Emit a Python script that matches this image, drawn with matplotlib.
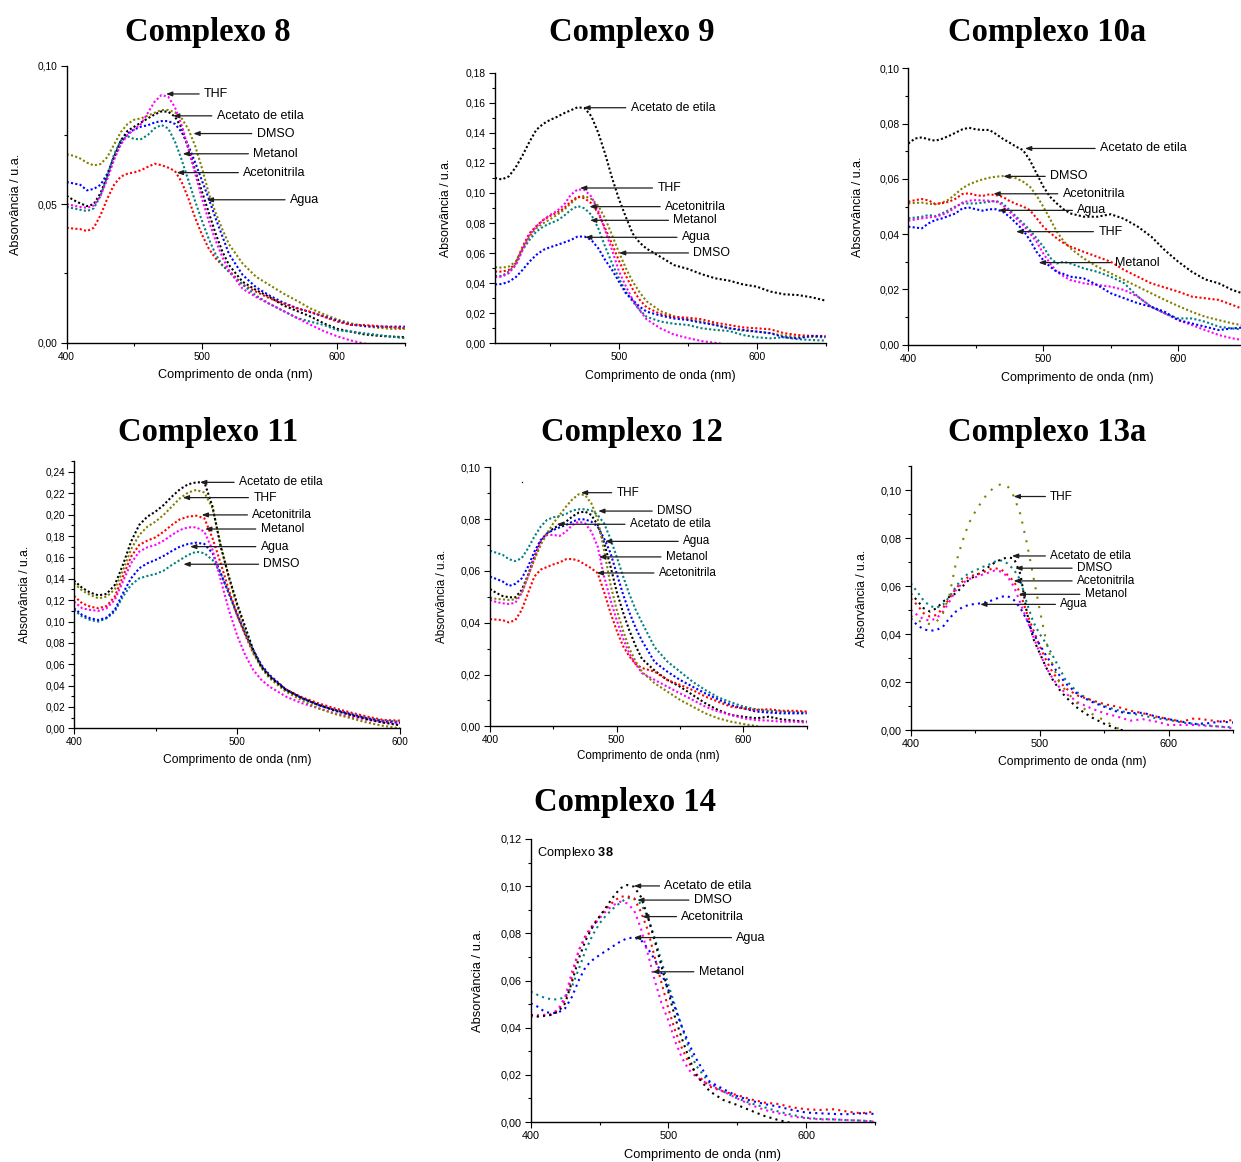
import numpy as np
import matplotlib
matplotlib.use("Agg")
import matplotlib.pyplot as plt
from matplotlib.ticker import MultipleLocator, FuncFormatter

plt.rcParams['font.family'] = ['Liberation Sans', 'DejaVu Sans']
plt.rcParams['mathtext.fontset'] = 'custom'
plt.rcParams['mathtext.rm'] = 'Liberation Sans'
plt.rcParams['mathtext.bf'] = 'Liberation Sans:bold'

FIG_W, FIG_H = 1241, 1162

# ---------------------------------------------------------------- wavelengths (nm)
wl = [400, 405, 410, 415, 420, 425, 430, 435, 440, 445, 450, 455, 460, 465, 470,
      475, 480, 485, 490, 495, 500, 505, 510, 515, 520, 530, 540, 550, 560, 570,
      580, 590, 600, 610, 620, 630, 640, 650]
wl_9 = [410, 415, 420, 425, 430, 435, 440, 445, 450, 455, 460, 465, 470, 475, 480,
        485, 490, 495, 500, 505, 510, 515, 520, 530, 540, 550, 560, 570, 580, 590,
        600, 610, 620, 630, 640, 650]
wl_11 = [400, 405, 410, 415, 420, 425, 430, 435, 440, 445, 450, 455, 460, 465, 470,
         475, 480, 485, 490, 495, 500, 505, 510, 515, 520, 530, 540, 550, 560, 570,
         580, 590, 600]

# ---------------------------------------------------------------- Complexo 8
c8_olive = [0.0680, 0.0675, 0.0665, 0.0650, 0.0640, 0.0645, 0.0670, 0.0715, 0.0760, 0.0790,
            0.0805, 0.0810, 0.0820, 0.0830, 0.0840, 0.0840, 0.0832, 0.0810, 0.0770, 0.0710,
            0.0630, 0.0540, 0.0470, 0.0410, 0.0355, 0.0286, 0.0238, 0.0208, 0.0178, 0.0152,
            0.0124, 0.0103, 0.0084, 0.0070, 0.0060, 0.0054, 0.0050, 0.0050]
c8_blue = [0.0580, 0.0575, 0.0570, 0.0550, 0.0555, 0.0570, 0.0610, 0.0670, 0.0720, 0.0755,
           0.0770, 0.0780, 0.0785, 0.0795, 0.0800, 0.0800, 0.0790, 0.0760, 0.0710, 0.0650,
           0.0585, 0.0520, 0.0450, 0.0385, 0.0320, 0.0245, 0.0200, 0.0170, 0.0145, 0.0125,
           0.0110, 0.0095, 0.0080, 0.0065, 0.0060, 0.0058, 0.0058, 0.0058]
c8_black = [0.0530, 0.0515, 0.0503, 0.0493, 0.0500, 0.0540, 0.0600, 0.0670, 0.0730, 0.0765,
            0.0780, 0.0795, 0.0810, 0.0824, 0.0835, 0.0834, 0.0816, 0.0775, 0.0700, 0.0620,
            0.0545, 0.0470, 0.0395, 0.0330, 0.0280, 0.0220, 0.0190, 0.0165, 0.0135, 0.0115,
            0.0095, 0.0070, 0.0050, 0.0040, 0.0030, 0.0025, 0.0022, 0.0020]
c8_magenta = [0.0500, 0.0495, 0.0490, 0.0487, 0.0495, 0.0530, 0.0590, 0.0660, 0.0715, 0.0750,
              0.0770, 0.0790, 0.0830, 0.0870, 0.0894, 0.0888, 0.0850, 0.0785, 0.0700, 0.0610,
              0.0520, 0.0440, 0.0370, 0.0310, 0.0260, 0.0195, 0.0165, 0.0140, 0.0115, 0.0090,
              0.0065, 0.0042, 0.0023, 0.0008, -0.0003, -0.0010, -0.0015, -0.0020]
c8_teal = [0.0490, 0.0485, 0.0480, 0.0475, 0.0485, 0.0530, 0.0600, 0.0680, 0.0730, 0.0745,
           0.0735, 0.0735, 0.0750, 0.0774, 0.0786, 0.0774, 0.0726, 0.0660, 0.0585, 0.0510,
           0.0440, 0.0375, 0.0320, 0.0280, 0.0255, 0.0210, 0.0170, 0.0140, 0.0115, 0.0090,
           0.0076, 0.0064, 0.0045, 0.0040, 0.0034, 0.0028, 0.0022, 0.0016]
c8_red = [0.0415, 0.0412, 0.0410, 0.0403, 0.0415, 0.0460, 0.0520, 0.0570, 0.0600, 0.0610,
          0.0615, 0.0623, 0.0635, 0.0646, 0.0641, 0.0632, 0.0620, 0.0580, 0.0520, 0.0450,
          0.0390, 0.0340, 0.0305, 0.0280, 0.0260, 0.0210, 0.0184, 0.0160, 0.0142, 0.0124,
          0.0112, 0.0094, 0.0076, 0.0064, 0.0064, 0.0060, 0.0056, 0.0052]

# ---------------------------------------------------------------- Complexo 9
c9_black = [0.1100, 0.1090, 0.1110, 0.1170, 0.1250, 0.1340, 0.1420, 0.1460, 0.1486, 0.1506,
            0.1530, 0.1550, 0.1570, 0.1565, 0.1510, 0.1400, 0.1260, 0.1100, 0.0960, 0.0840,
            0.0730, 0.0670, 0.0630, 0.0576, 0.0520, 0.0495, 0.0460, 0.0432, 0.0417, 0.0392,
            0.0377, 0.0344, 0.0326, 0.0321, 0.0306, 0.0284]
c9_olive = [0.0506, 0.0503, 0.0510, 0.0543, 0.0630, 0.0710, 0.0765, 0.0798, 0.0825, 0.0854,
            0.0887, 0.0930, 0.0970, 0.0980, 0.0960, 0.0915, 0.0830, 0.0720, 0.0605, 0.0500,
            0.0410, 0.0340, 0.0280, 0.0215, 0.0180, 0.0160, 0.0144, 0.0122, 0.0100, 0.0084,
            0.0078, 0.0067, 0.0050, 0.0044, 0.0042, 0.0040]
c9_magenta = [0.0440, 0.0443, 0.0466, 0.0520, 0.0620, 0.0720, 0.0776, 0.0820, 0.0854, 0.0880,
              0.0920, 0.0987, 0.1024, 0.1020, 0.0976, 0.0880, 0.0750, 0.0620, 0.0480, 0.0380,
              0.0290, 0.0220, 0.0160, 0.0100, 0.0058, 0.0035, 0.0015, 0.0003, -0.0010, -0.0020,
              -0.0020, -0.0020, -0.0020, -0.0020, -0.0020, -0.0020]
c9_red = [0.0477, 0.0477, 0.0488, 0.0532, 0.0643, 0.0732, 0.0780, 0.0820, 0.0847, 0.0869,
          0.0898, 0.0942, 0.0976, 0.0965, 0.0931, 0.0865, 0.0765, 0.0660, 0.0550, 0.0450,
          0.0360, 0.0290, 0.0240, 0.0195, 0.0175, 0.0170, 0.0160, 0.0137, 0.0122, 0.0106,
          0.0100, 0.0093, 0.0067, 0.0055, 0.0049, 0.0049]
c9_teal = [0.0448, 0.0448, 0.0477, 0.0521, 0.0621, 0.0687, 0.0743, 0.0776, 0.0798, 0.0816,
           0.0847, 0.0887, 0.0913, 0.0898, 0.0854, 0.0765, 0.0643, 0.0532, 0.0432, 0.0344,
           0.0277, 0.0222, 0.0177, 0.0145, 0.0130, 0.0122, 0.0100, 0.0089, 0.0082, 0.0055,
           0.0040, 0.0033, 0.0040, 0.0027, 0.0022, 0.0018]
c9_blue = [0.0392, 0.0394, 0.0410, 0.0439, 0.0488, 0.0543, 0.0588, 0.0621, 0.0639, 0.0654,
           0.0670, 0.0687, 0.0710, 0.0710, 0.0687, 0.0632, 0.0554, 0.0488, 0.0410, 0.0333,
           0.0288, 0.0244, 0.0211, 0.0185, 0.0165, 0.0155, 0.0137, 0.0122, 0.0100, 0.0089,
           0.0078, 0.0067, 0.0040, 0.0033, 0.0049, 0.0044]

# ---------------------------------------------------------------- Complexo 10a
c10_black = [0.0728, 0.0746, 0.0750, 0.0743, 0.0738, 0.0745, 0.0755, 0.0767, 0.0779, 0.0785,
             0.0779, 0.0777, 0.0777, 0.0762, 0.0745, 0.0731, 0.0716, 0.0704, 0.0668, 0.0620,
             0.0572, 0.0535, 0.0511, 0.0490, 0.0475, 0.0463, 0.0463, 0.0472, 0.0455, 0.0427,
             0.0391, 0.0342, 0.0300, 0.0264, 0.0236, 0.0222, 0.0198, 0.0182]
c10_olive = [0.0511, 0.0513, 0.0514, 0.0510, 0.0508, 0.0514, 0.0525, 0.0545, 0.0566, 0.0580,
             0.0590, 0.0598, 0.0604, 0.0608, 0.0610, 0.0608, 0.0602, 0.0590, 0.0572, 0.0540,
             0.0499, 0.0455, 0.0409, 0.0375, 0.0349, 0.0312, 0.0282, 0.0258, 0.0234, 0.0210,
             0.0186, 0.0162, 0.0140, 0.0119, 0.0101, 0.0089, 0.0077, 0.0068]
c10_red = [0.0517, 0.0523, 0.0527, 0.0522, 0.0509, 0.0512, 0.0517, 0.0528, 0.0545, 0.0548,
           0.0541, 0.0538, 0.0544, 0.0541, 0.0535, 0.0520, 0.0509, 0.0500, 0.0487, 0.0458,
           0.0427, 0.0405, 0.0385, 0.0368, 0.0355, 0.0336, 0.0318, 0.0300, 0.0270, 0.0246,
           0.0222, 0.0207, 0.0192, 0.0174, 0.0168, 0.0162, 0.0144, 0.0125]
c10_magenta = [0.0449, 0.0453, 0.0457, 0.0460, 0.0463, 0.0470, 0.0481, 0.0497, 0.0514, 0.0521,
               0.0523, 0.0522, 0.0521, 0.0518, 0.0505, 0.0481, 0.0457, 0.0433, 0.0403, 0.0373,
               0.0330, 0.0294, 0.0264, 0.0248, 0.0234, 0.0222, 0.0216, 0.0210, 0.0198, 0.0174,
               0.0137, 0.0113, 0.0089, 0.0071, 0.0053, 0.0035, 0.0023, 0.0015]
c10_teal = [0.0457, 0.0460, 0.0463, 0.0469, 0.0465, 0.0475, 0.0487, 0.0500, 0.0511, 0.0511,
            0.0511, 0.0514, 0.0517, 0.0520, 0.0511, 0.0487, 0.0463, 0.0440, 0.0415, 0.0385,
            0.0355, 0.0315, 0.0294, 0.0300, 0.0294, 0.0276, 0.0264, 0.0246, 0.0222, 0.0174,
            0.0137, 0.0113, 0.0095, 0.0095, 0.0083, 0.0065, 0.0059, 0.0053]
c10_blue = [0.0427, 0.0424, 0.0421, 0.0439, 0.0451, 0.0457, 0.0466, 0.0475, 0.0493, 0.0496,
            0.0490, 0.0485, 0.0490, 0.0490, 0.0481, 0.0463, 0.0439, 0.0415, 0.0379, 0.0336,
            0.0306, 0.0282, 0.0264, 0.0256, 0.0246, 0.0240, 0.0216, 0.0186, 0.0168, 0.0150,
            0.0137, 0.0119, 0.0089, 0.0077, 0.0065, 0.0053, 0.0059, 0.0063]

# ---------------------------------------------------------------- Complexo 11
c11_black = [0.1383, 0.1315, 0.1270, 0.1245, 0.1258, 0.1342, 0.1530, 0.1748, 0.1904, 0.1982,
             0.2029, 0.2091, 0.2169, 0.2238, 0.2285, 0.2303, 0.2303, 0.2075, 0.1700, 0.1420,
             0.1170, 0.0952, 0.0733, 0.0577, 0.0484, 0.0359, 0.0281, 0.0218, 0.0165, 0.0125,
             0.0084, 0.0053, 0.0028]
c11_olive = [0.1358, 0.1290, 0.1248, 0.1217, 0.1233, 0.1301, 0.1476, 0.1676, 0.1810, 0.1888,
             0.1935, 0.1998, 0.2076, 0.2154, 0.2207, 0.2232, 0.2207, 0.2060, 0.1720, 0.1410,
             0.1150, 0.0920, 0.0710, 0.0562, 0.0468, 0.0343, 0.0259, 0.0187, 0.0134, 0.0094,
             0.0053, 0.0022, 0.0000]
c11_red = [0.1239, 0.1170, 0.1139, 0.1124, 0.1145, 0.1233, 0.1420, 0.1607, 0.1717, 0.1757,
           0.1788, 0.1841, 0.1904, 0.1957, 0.1982, 0.1991, 0.1966, 0.1779, 0.1545, 0.1295,
           0.1061, 0.0874, 0.0702, 0.0577, 0.0484, 0.0365, 0.0290, 0.0234, 0.0187, 0.0147,
           0.0109, 0.0078, 0.0072]
c11_magenta = [0.1186, 0.1124, 0.1108, 0.1099, 0.1124, 0.1202, 0.1373, 0.1545, 0.1654, 0.1695,
               0.1717, 0.1757, 0.1810, 0.1857, 0.1882, 0.1882, 0.1841, 0.1670, 0.1389, 0.1108,
               0.0874, 0.0687, 0.0546, 0.0453, 0.0390, 0.0297, 0.0234, 0.0187, 0.0140, 0.0109,
               0.0078, 0.0053, 0.0041]
c11_blue = [0.1124, 0.1061, 0.1030, 0.1014, 0.1036, 0.1108, 0.1264, 0.1404, 0.1498, 0.1545,
            0.1576, 0.1614, 0.1660, 0.1701, 0.1726, 0.1738, 0.1726, 0.1639, 0.1451, 0.1264,
            0.1077, 0.0889, 0.0733, 0.0593, 0.0499, 0.0365, 0.0281, 0.0218, 0.0172, 0.0134,
            0.0094, 0.0062, 0.0053]
c11_teal = [0.1108, 0.1046, 0.1014, 0.0999, 0.1030, 0.1092, 0.1233, 0.1342, 0.1404, 0.1426,
            0.1445, 0.1476, 0.1529, 0.1576, 0.1623, 0.1654, 0.1639, 0.1576, 0.1451, 0.1264,
            0.1061, 0.0889, 0.0718, 0.0577, 0.0490, 0.0359, 0.0281, 0.0218, 0.0172, 0.0125,
            0.0094, 0.0072, 0.0062]

# ---------------------------------------------------------------- Complexo 12
c12_teal = [0.0678, 0.0670, 0.0662, 0.0645, 0.0638, 0.0649, 0.0687, 0.0732, 0.0771, 0.0797,
            0.0807, 0.0812, 0.0820, 0.0833, 0.0838, 0.0838, 0.0833, 0.0816, 0.0784, 0.0725,
            0.0655, 0.0580, 0.0510, 0.0450, 0.0400, 0.0305, 0.0250, 0.0211, 0.0172, 0.0140,
            0.0112, 0.0093, 0.0076, 0.0066, 0.0059, 0.0057, 0.0054, 0.0053]
c12_olive = [0.0497, 0.0492, 0.0490, 0.0488, 0.0490, 0.0514, 0.0578, 0.0642, 0.0700, 0.0745,
             0.0784, 0.0816, 0.0848, 0.0876, 0.0896, 0.0893, 0.0861, 0.0800, 0.0680, 0.0550,
             0.0450, 0.0370, 0.0300, 0.0250, 0.0210, 0.0166, 0.0134, 0.0102, 0.0076, 0.0050,
             0.0031, 0.0018, 0.0009, 0.0001, -0.0008, -0.0015, -0.0020, -0.0025]
c12_black = [0.0530, 0.0515, 0.0503, 0.0498, 0.0498, 0.0526, 0.0584, 0.0655, 0.0713, 0.0745,
             0.0764, 0.0777, 0.0790, 0.0810, 0.0825, 0.0829, 0.0816, 0.0777, 0.0710, 0.0620,
             0.0520, 0.0440, 0.0370, 0.0310, 0.0260, 0.0215, 0.0179, 0.0153, 0.0121, 0.0089,
             0.0063, 0.0044, 0.0037, 0.0031, 0.0037, 0.0027, 0.0022, 0.0018]
c12_blue = [0.0578, 0.0569, 0.0559, 0.0542, 0.0550, 0.0571, 0.0616, 0.0674, 0.0719, 0.0745,
            0.0758, 0.0768, 0.0777, 0.0790, 0.0799, 0.0799, 0.0790, 0.0771, 0.0726, 0.0670,
            0.0590, 0.0510, 0.0440, 0.0380, 0.0330, 0.0248, 0.0211, 0.0179, 0.0153, 0.0127,
            0.0104, 0.0082, 0.0069, 0.0057, 0.0053, 0.0050, 0.0050, 0.0050]
c12_magenta = [0.0488, 0.0480, 0.0475, 0.0472, 0.0477, 0.0514, 0.0578, 0.0649, 0.0713, 0.0739,
               0.0739, 0.0735, 0.0752, 0.0777, 0.0790, 0.0784, 0.0752, 0.0694, 0.0580, 0.0490,
               0.0410, 0.0340, 0.0280, 0.0240, 0.0205, 0.0179, 0.0153, 0.0127, 0.0102, 0.0076,
               0.0057, 0.0044, 0.0031, 0.0024, 0.0022, 0.0018, 0.0018, 0.0014]
c12_red = [0.0414, 0.0412, 0.0410, 0.0401, 0.0410, 0.0449, 0.0514, 0.0578, 0.0605, 0.0615,
           0.0625, 0.0633, 0.0645, 0.0646, 0.0639, 0.0625, 0.0610, 0.0591, 0.0520, 0.0440,
           0.0370, 0.0310, 0.0270, 0.0240, 0.0225, 0.0211, 0.0179, 0.0160, 0.0140, 0.0115,
           0.0095, 0.0076, 0.0069, 0.0063, 0.0066, 0.0060, 0.0060, 0.0057]
c12_stray_nm = [425]
c12_stray_abs = [0.0945]

# ---------------------------------------------------------------- Complexo 13a
c13_olive = [0.0476, 0.0460, 0.0445, 0.0442, 0.0452, 0.0487, 0.0563, 0.0695, 0.0786, 0.0862,
             0.0911, 0.0953, 0.0990, 0.1013, 0.1026, 0.1018, 0.0974, 0.0900, 0.0780, 0.0640,
             0.0500, 0.0370, 0.0270, 0.0200, 0.0165, 0.0105, 0.0068, 0.0040, 0.0008, -0.0010,
             -0.0020, -0.0030, -0.0030, -0.0030, -0.0030, -0.0030, -0.0030, -0.0030]
c13_black = [0.0570, 0.0540, 0.0508, 0.0494, 0.0508, 0.0535, 0.0556, 0.0570, 0.0598, 0.0626,
             0.0643, 0.0661, 0.0679, 0.0698, 0.0712, 0.0720, 0.0716, 0.0650, 0.0490, 0.0380,
             0.0320, 0.0260, 0.0210, 0.0170, 0.0138, 0.0088, 0.0053, 0.0026, 0.0005, -0.0010,
             -0.0020, -0.0025, -0.0030, -0.0030, -0.0030, -0.0030, -0.0030, -0.0030]
c13_teal = [0.0612, 0.0577, 0.0540, 0.0517, 0.0510, 0.0522, 0.0556, 0.0598, 0.0633, 0.0654,
            0.0665, 0.0679, 0.0688, 0.0702, 0.0707, 0.0695, 0.0668, 0.0626, 0.0529, 0.0450,
            0.0400, 0.0360, 0.0310, 0.0260, 0.0209, 0.0153, 0.0122, 0.0100, 0.0083, 0.0070,
            0.0060, 0.0049, 0.0042, 0.0031, 0.0025, 0.0019, 0.0014, 0.0011]
c13_red = [0.0549, 0.0522, 0.0487, 0.0473, 0.0480, 0.0508, 0.0549, 0.0591, 0.0619, 0.0640,
           0.0647, 0.0654, 0.0668, 0.0675, 0.0670, 0.0647, 0.0619, 0.0570, 0.0487, 0.0417,
           0.0350, 0.0290, 0.0240, 0.0205, 0.0174, 0.0142, 0.0125, 0.0108, 0.0097, 0.0081,
           0.0070, 0.0056, 0.0045, 0.0035, 0.0049, 0.0042, 0.0035, 0.0042]
c13_magenta = [0.0501, 0.0480, 0.0462, 0.0456, 0.0466, 0.0494, 0.0535, 0.0584, 0.0612, 0.0629,
               0.0637, 0.0647, 0.0656, 0.0665, 0.0661, 0.0640, 0.0598, 0.0529, 0.0459, 0.0389,
               0.0320, 0.0260, 0.0215, 0.0180, 0.0153, 0.0114, 0.0090, 0.0070, 0.0056, 0.0039,
               0.0045, 0.0035, 0.0021, 0.0021, 0.0021, 0.0017, 0.0014, 0.0007]
c13_blue = [0.0466, 0.0438, 0.0420, 0.0414, 0.0417, 0.0431, 0.0466, 0.0494, 0.0512, 0.0522,
            0.0526, 0.0529, 0.0535, 0.0545, 0.0556, 0.0559, 0.0542, 0.0508, 0.0459, 0.0403,
            0.0355, 0.0310, 0.0270, 0.0230, 0.0195, 0.0146, 0.0118, 0.0097, 0.0076, 0.0070,
            0.0072, 0.0056, 0.0045, 0.0035, 0.0025, 0.0028, 0.0035, 0.0031]

# ---------------------------------------------------------------- Complexo 14
c14_black = [0.0454, 0.0447, 0.0450, 0.0454, 0.0468, 0.0503, 0.0595, 0.0694, 0.0772, 0.0828,
             0.0871, 0.0913, 0.0955, 0.0991, 0.1005, 0.0998, 0.0955, 0.0871, 0.0770, 0.0660,
             0.0550, 0.0440, 0.0350, 0.0270, 0.0200, 0.0130, 0.0093, 0.0072, 0.0048, 0.0025,
             0.0008, -0.0005, -0.0015, -0.0020, -0.0020, -0.0020, -0.0020, -0.0020]
c14_red = [0.0454, 0.0452, 0.0454, 0.0457, 0.0475, 0.0517, 0.0616, 0.0729, 0.0793, 0.0835,
           0.0871, 0.0906, 0.0934, 0.0955, 0.0958, 0.0948, 0.0892, 0.0814, 0.0700, 0.0590,
           0.0480, 0.0385, 0.0310, 0.0250, 0.0205, 0.0150, 0.0129, 0.0114, 0.0096, 0.0082,
           0.0076, 0.0062, 0.0054, 0.0051, 0.0054, 0.0044, 0.0037, 0.0044]
c14_magenta = [0.0447, 0.0450, 0.0454, 0.0456, 0.0478, 0.0531, 0.0637, 0.0729, 0.0786, 0.0828,
               0.0864, 0.0896, 0.0920, 0.0934, 0.0927, 0.0899, 0.0821, 0.0715, 0.0602, 0.0503,
               0.0430, 0.0340, 0.0270, 0.0220, 0.0192, 0.0157, 0.0129, 0.0100, 0.0072, 0.0051,
               0.0037, 0.0023, 0.0016, 0.0011, 0.0011, 0.0008, 0.0006, 0.0001]
c14_teal = [0.0553, 0.0539, 0.0527, 0.0520, 0.0520, 0.0530, 0.0575, 0.0650, 0.0730, 0.0793,
            0.0842, 0.0878, 0.0906, 0.0930, 0.0950, 0.0948, 0.0925, 0.0870, 0.0780, 0.0680,
            0.0580, 0.0490, 0.0400, 0.0310, 0.0240, 0.0164, 0.0129, 0.0100, 0.0079, 0.0062,
            0.0044, 0.0030, 0.0018, 0.0013, 0.0011, 0.0008, 0.0006, 0.0003]
c14_blue = [0.0503, 0.0489, 0.0468, 0.0461, 0.0464, 0.0482, 0.0531, 0.0602, 0.0659, 0.0687,
            0.0708, 0.0727, 0.0746, 0.0765, 0.0779, 0.0782, 0.0772, 0.0736, 0.0690, 0.0630,
            0.0560, 0.0480, 0.0400, 0.0330, 0.0270, 0.0171, 0.0139, 0.0110, 0.0090, 0.0076,
            0.0065, 0.0051, 0.0040, 0.0037, 0.0034, 0.0033, 0.0037, 0.0034]

# ---------------------------------------------------------------- styling
COL = dict(black='#000000', olive='#808000', blue='#0000ff',
           magenta='#ff00ff', teal='#008080', red='#ff0000')
SERIF = ['Liberation Serif', 'DejaVu Serif']
YLABEL = 'Absorvância / u.a.'
XLABEL = 'Comprimento de onda (nm)'

comma2 = FuncFormatter(lambda v, _: f'{v:.2f}'.replace('.', ','))
whole = FuncFormatter(lambda v, _: f'{v:.0f}')

panels = [
    dict(title='Complexo 8', title_xy=(208, 32), box=(66.7, 404.9, 65.7, 342.7),
         xlim=(400, 650), ylim=(0, 0.10), ymajor=0.05, yminor=0.025,
         ylabel_x=15.5, xlabel_y=375, tick_fs=7.3, label_fs=9.1, note_fs=9.0, dash=(1, 1.1),
         series=[(wl, c8_olive, 'olive'), (wl, c8_blue, 'blue'), (wl, c8_black, 'black'),
                 (wl, c8_red, 'red'), (wl, c8_teal, 'teal'), (wl, c8_magenta, 'magenta')],
         notes=[('THF', 473.4, 0.0898, 501.5), ('Acetato de etila', 478.6, 0.0819, 510.9),
                ('DMSO', 493.6, 0.0755, 540.4), ('Metanol', 485.7, 0.0682, 537.9),
                ('Acetonitrila', 481.3, 0.0614, 530.5), ('Agua', 503.5, 0.0516, 565.0)]),
    dict(title='Complexo 9', title_xy=(632, 32), box=(495, 825.5, 72.7, 343.3),
         xlim=(410, 650), ylim=(0, 0.18), ymajor=0.02, yminor=0.01,
         ylabel_x=445.7, xlabel_y=375.7, tick_fs=7.4, label_fs=8.8, note_fs=8.8, dash=(1, 1.1),
         series=[(wl_9, c9_black, 'black'), (wl_9, c9_olive, 'olive'), (wl_9, c9_red, 'red'),
                 (wl_9, c9_teal, 'teal'), (wl_9, c9_blue, 'blue'), (wl_9, c9_magenta, 'magenta')],
         notes=[('Acetato de etila', 474.1, 0.1567, 508.5), ('THF', 471.7, 0.1033, 527.9),
                ('Acetonitrila', 478.5, 0.0909, 533.5), ('Metanol', 479.0, 0.0818, 539.5),
                ('Agua', 475.4, 0.0705, 545.6), ('DMSO', 500.0, 0.0601, 554.0)]),
    dict(title='Complexo 10a', title_xy=(1047, 32), box=(908.3, 1245.8, 68.3, 344.7),
         xlim=(400, 650), ylim=(0, 0.10), ymajor=0.02, yminor=0.01,
         ylabel_x=858, xlabel_y=377.7, tick_fs=7.4, label_fs=9.0, note_fs=9.0, dash=(1, 1.1),
         series=[(wl, c10_black, 'black'), (wl, c10_olive, 'olive'), (wl, c10_red, 'red'),
                 (wl, c10_teal, 'teal'), (wl, c10_magenta, 'magenta'), (wl, c10_blue, 'blue')],
         notes=[('Acetato de etila', 486.4, 0.0710, 542.0), ('DMSO', 470.4, 0.0609, 505.0),
                ('Acetonitrila', 463.0, 0.0546, 514.3), ('Agua', 466.7, 0.0486, 525.2),
                ('THF', 479.8, 0.0409, 540.7), ('Metanol', 496.5, 0.0297, 553.3)]),
    dict(title='Complexo 11', title_xy=(208, 432), box=(74, 400, 461.3, 728.3),
         xlim=(400, 600), ylim=(0, 0.25), ymajor=0.02, yminor=0.01,
         ylabel_x=25.3, xlabel_y=760, tick_fs=7.2, label_fs=8.7, note_fs=8.7, dash=(1, 1.1),
         series=[(wl_11, c11_teal, 'teal'), (wl_11, c11_blue, 'blue'), (wl_11, c11_magenta, 'magenta'),
                 (wl_11, c11_red, 'red'), (wl_11, c11_olive, 'olive'), (wl_11, c11_black, 'black')],
         notes=[('Acetato de etila', 477.3, 0.2303, 501.2), ('THF', 466.7, 0.2160, 510.0),
                ('Acetonitrila', 478.3, 0.1998, 509.4), ('Metanol', 480.4, 0.1866, 514.5),
                ('Agua', 471.2, 0.1701, 514.5), ('DMSO', 467.1, 0.1536, 516.2)]),
    dict(title='Complexo 12', title_xy=(632, 432), box=(490, 806.7, 467.3, 726.3),
         xlim=(400, 650), ylim=(0, 0.10), ymajor=0.02, yminor=0.01,
         ylabel_x=442, xlabel_y=756, tick_fs=7.4, label_fs=8.4, note_fs=8.4, dash=(1, 1.1),
         series=[(wl, c12_teal, 'teal'), (wl, c12_blue, 'blue'), (wl, c12_black, 'black'),
                 (wl, c12_red, 'red'), (wl, c12_magenta, 'magenta'), (wl, c12_olive, 'olive')],
         notes=[('THF', 471.7, 0.0902, 499.9), ('DMSO', 485.4, 0.0831, 531.9),
                ('Acetato de etila', 452.6, 0.0780, 510.4), ('Agua', 490.7, 0.0714, 552.4),
                ('Metanol', 485.9, 0.0654, 538.8), ('Acetonitrila', 484.1, 0.0592, 533.2)]),
    dict(title='Complexo 13a', title_xy=(1047, 432), box=(910.7, 1233.4, 466.3, 730),
         xlim=(400, 650), ylim=(0, 0.11), ymajor=0.02, yminor=0.01,
         ylabel_x=862, xlabel_y=762.3, tick_fs=7.8, label_fs=8.7, note_fs=8.5, dash=(1, 2.0),
         series=[(wl, c13_teal, 'teal'), (wl, c13_black, 'black'), (wl, c13_red, 'red'),
                 (wl, c13_magenta, 'magenta'), (wl, c13_blue, 'blue'), (wl, c13_olive, 'olive')],
         notes=[('THF', 479.7, 0.0974, 508.1), ('Acetato de etila', 478.4, 0.0726, 508.1),
                ('DMSO', 481.0, 0.0675, 528.8), ('Acetonitrila', 479.7, 0.0622, 528.8),
                ('Metanol', 483.6, 0.0566, 534.8), ('Agua', 453.8, 0.0524, 515.9)]),
    dict(title='Complexo 14', title_xy=(625, 803), box=(530.7, 875, 839, 1122),
         xlim=(400, 650), ylim=(0, 0.12), ymajor=0.02, yminor=0.01,
         ylabel_x=478, xlabel_y=1155, tick_fs=7.8, label_fs=9.3, note_fs=9.1, dash=(1, 2.0),
         series=[(wl, c14_teal, 'teal'), (wl, c14_blue, 'blue'), (wl, c14_red, 'red'),
                 (wl, c14_magenta, 'magenta'), (wl, c14_black, 'black')],
         notes=[('Acetato de etila', 474.9, 0.1001, 497.1), ('DMSO', 477.3, 0.0941, 518.4),
                ('Acetonitrila', 480.9, 0.0871, 509.4), ('Agua', 474.9, 0.0782, 549.3),
                ('Metanol', 488.2, 0.0637, 522.0)]),
]

fig = plt.figure(figsize=(FIG_W / 100, FIG_H / 100), dpi=100)
fig.patch.set_facecolor('white')

axes = []
for p in panels:
    x0, x1, yt, yb = p['box']
    ax = fig.add_axes([x0 / FIG_W, 1 - yb / FIG_H, (x1 - x0) / FIG_W, (yb - yt) / FIG_H])
    axes.append(ax)
    for s in ('top', 'right'):
        ax.spines[s].set_visible(False)
    for s in ('left', 'bottom'):
        ax.spines[s].set_linewidth(1.0)

    for xs, ys, cname in p['series']:
        dash = p['dash']
        if p['title'] == 'Complexo 13a' and cname == 'olive':
            dash = (1, 3.6)
        ax.plot(xs, ys, color=COL[cname], lw=1.5, ls=(0, dash))

    ax.set_xlim(*p['xlim'])
    ax.set_ylim(*p['ylim'])
    ax.xaxis.set_major_locator(MultipleLocator(100))
    ax.xaxis.set_minor_locator(MultipleLocator(50))
    ax.yaxis.set_major_locator(MultipleLocator(p['ymajor']))
    ax.yaxis.set_minor_locator(MultipleLocator(p['yminor']))
    ax.xaxis.set_major_formatter(whole)
    ax.yaxis.set_major_formatter(comma2)
    ax.tick_params(which='major', direction='out', length=4, width=0.8,
                   labelsize=p['tick_fs'], pad=2.5)
    ax.tick_params(which='minor', direction='out', length=2.5, width=0.8)

    ax.set_ylabel(YLABEL, fontsize=p['label_fs'], va='center')
    ax.yaxis.set_label_coords((p['ylabel_x'] - x0) / (x1 - x0), 0.5)
    ax.set_xlabel(XLABEL, fontsize=p['label_fs'], va='center')
    ax.xaxis.set_label_coords(0.5, -(p['xlabel_y'] - yb) / (yb - yt))

    for text, tx, ty, lx in p['notes']:
        ax.annotate(text, xy=(tx, ty), xytext=(lx, ty), fontsize=p['note_fs'],
                    ha='left', va='center',
                    arrowprops=dict(arrowstyle='-|>,head_length=0.45,head_width=0.17',
                                    color='#1e1e1e', lw=0.9, mutation_scale=8,
                                    shrinkA=1.5, shrinkB=0))

    fig.text(p['title_xy'][0] / FIG_W, 1 - p['title_xy'][1] / FIG_H, p['title'],
             family=SERIF, weight='bold', fontsize=23.5, ha='center', va='center')

# isolated reading in the Complexo 12 spectrum window
axes[4].plot(c12_stray_nm, c12_stray_abs, ls='none', marker='s', ms=0.9, mew=0,
             color='black')

# sample tag inside the Complexo 14 window
axes[6].text(404.4, 0.114, r'Complexo $\mathbf{38}$', fontsize=9.2, ha='left', va='center')

fig.savefig('out.png', dpi=100, facecolor='white')
